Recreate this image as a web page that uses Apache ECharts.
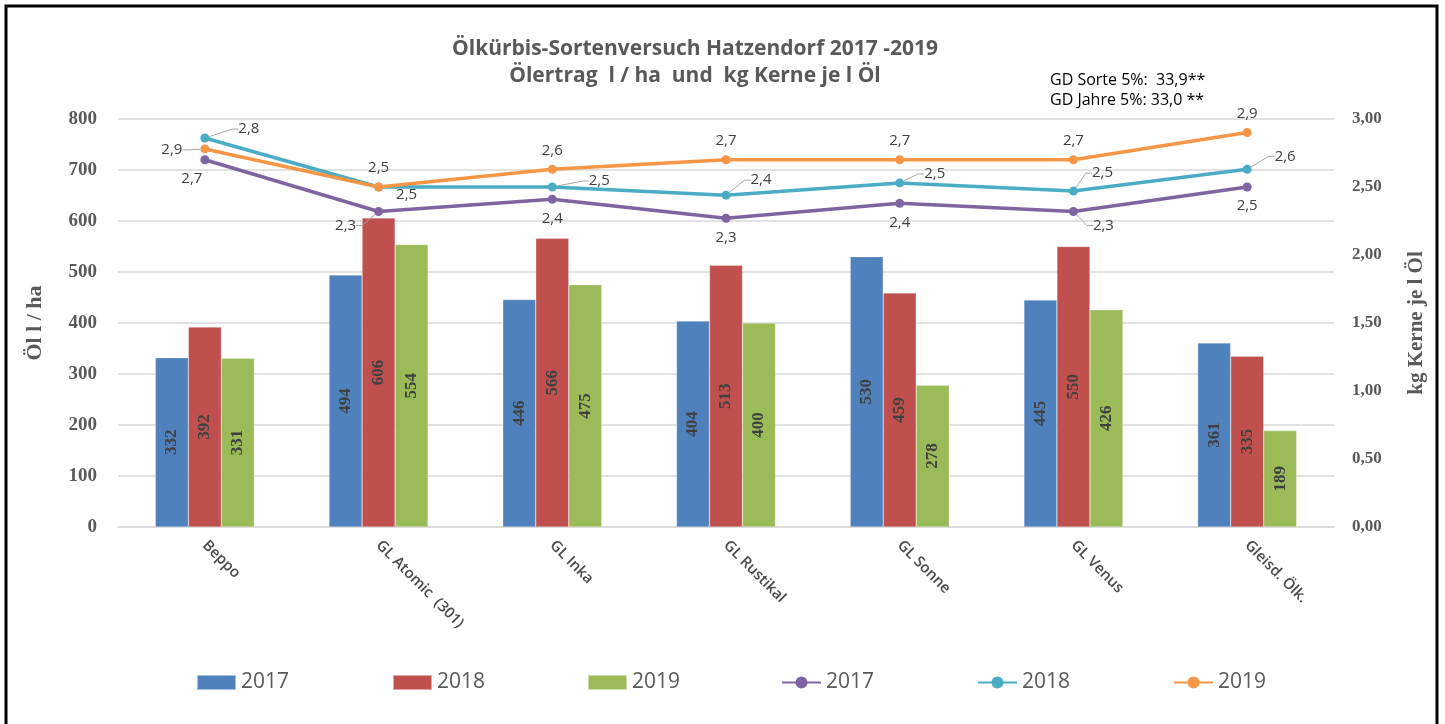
<!DOCTYPE html>
<html>
<head>
<meta charset="utf-8">
<title>Ölkürbis-Sortenversuch Hatzendorf</title>
<script src="https://cdn.jsdelivr.net/npm/echarts@6/dist/echarts.min.js"></script>
<style>
  html, body { margin: 0; padding: 0; background: #fff; }
  #main { width: 1445px; height: 724px; }
</style>
</head>
<body>
<div id="main"></div>
<script>
// Sorten (Kategorien)
const sorten = ['Beppo', 'GL Atomic  (301)', 'GL Inka', 'GL Rustikal', 'GL Sonne', 'GL Venus', 'Gleisd. Ölk.'];
// Ölertrag l/ha (Balken)
const oel2017 = [332, 494, 446, 404, 530, 445, 361];
const oel2018 = [392, 606, 566, 513, 459, 550, 335];
const oel2019 = [331, 554, 475, 400, 278, 426, 189];
// kg Kerne je l Öl (Linien), Lage im Bild
const kern2017 = [2.70, 2.32, 2.41, 2.27, 2.38, 2.32, 2.50];
const kern2018 = [2.86, 2.50, 2.50, 2.44, 2.53, 2.47, 2.63];
const kern2019 = [2.78, 2.50, 2.63, 2.70, 2.70, 2.70, 2.90];
// Beschriftungen der Linienpunkte, wie im Original
const kernText2017 = ['2,7', '2,3', '2,4', '2,3', '2,4', '2,3', '2,5'];
const kernText2018 = ['2,8', '2,5', '2,5', '2,4', '2,5', '2,5', '2,6'];
const kernText2019 = ['2,9', '2,5', '2,6', '2,7', '2,7', '2,7', '2,9'];

const serifFont = '"Liberation Serif", "DejaVu Serif", serif';
const sansFont = '"Open Sans", "Liberation Sans", sans-serif';

// Verschiebung einzelner Liniendaten-Beschriftungen [dx, dy]
const shift2017 = { 0: [-13, 0], 1: [-33, -5], 5: [30, -5] };
const shift2018 = { 0: [22, -9], 1: [6, 8], 2: [25, -6], 3: [13, -15], 4: [13, -9], 5: [7, -18], 6: [16, -13] };
const shift2019 = { 0: [-33, 20] };
const leader2017 = [1, 5];
const leader2018 = [0, 2, 3, 4, 5, 6];
const leader2019 = [0];

function barSeries(name, data, color) {
    return {
        name: name,
        type: 'bar',
        yAxisIndex: 0,
        barWidth: 33,
        barGap: '0%',
        data: data,
        itemStyle: { color: color, borderColor: 'rgba(255,255,255,0.5)', borderWidth: 0.5 },
        label: {
            show: true,
            position: 'inside',
            rotate: 90,
            fontFamily: serifFont,
            fontWeight: 'bold',
            fontSize: 17,
            color: '#404040'
        }
    };
}

function lineSeries(name, data, texts, color, pos, shift, leaders) {
    return {
        name: name,
        type: 'line',
        yAxisIndex: 1,
        symbol: 'circle',
        symbolSize: 9,
        z: 5,
        data: data.map((v, i) => ({
            value: v,
            labelLine: { show: leaders.indexOf(i) >= 0 }
        })),
        lineStyle: { color: color, width: 3.5 },
        itemStyle: { color: color },
        label: {
            show: true,
            position: pos,
            distance: 7,
            fontFamily: sansFont,
            fontSize: 15,
            color: '#404040',
            formatter: p => texts[p.dataIndex]
        },
        labelLine: {
            show: false,
            length2: 6,
            lineStyle: { color: '#a6a6a6', width: 1 }
        },
        labelLayout: p => {
            const s = shift[p.dataIndex];
            return s ? { dx: s[0], dy: s[1] } : {};
        }
    };
}

const chart = echarts.init(document.getElementById('main'));

const legendLeft = [191, 387, 582, 776, 972, 1168];
const legendNames = ['2017', '2018', '2019', '2017 ', '2018 ', '2019 '];

const option = {
    animation: false,
    textStyle: { fontFamily: sansFont },
    title: [
        {
            text: 'Ölkürbis-Sortenversuch Hatzendorf 2017 -2019',
            left: 690, top: 34, textAlign: 'center',
            textStyle: { fontSize: 21, fontWeight: 'bold', color: '#595959', fontFamily: sansFont }
        },
        {
            text: 'Ölertrag  l / ha  und  kg Kerne je l Öl',
            left: 690, top: 61, textAlign: 'center',
            textStyle: { fontSize: 21, fontWeight: 'bold', color: '#595959', fontFamily: sansFont }
        },
        {
            text: 'GD Sorte 5%:  33,9**',
            left: 1045, top: 67,
            textStyle: { fontSize: 16, fontWeight: 'normal', color: '#000', fontFamily: sansFont }
        },
        {
            text: 'GD Jahre 5%: 33,0 **',
            left: 1045, top: 87,
            textStyle: { fontSize: 16, fontWeight: 'normal', color: '#000', fontFamily: sansFont }
        }
    ],
    graphic: [
        {
            type: 'rect',
            shape: { x: 6, y: 6, width: 1431, height: 730 },
            style: { fill: 'none', stroke: '#000', lineWidth: 3 },
            silent: true
        }
    ],
    legend: legendNames.map((n, i) => ({
        data: i < 3 ? [{ name: n, icon: 'rect' }] : [n],
        left: legendLeft[i],
        top: 667,
        itemWidth: 39,
        itemHeight: 15,
        itemGap: 5,
        formatter: name => name.trim(),
        textStyle: { fontSize: 21, color: '#595959', fontFamily: sansFont }
    })),
    grid: { left: 118, right: 111, top: 119, bottom: 197 },
    xAxis: {
        type: 'category',
        data: sorten,
        axisTick: { show: false },
        axisLine: { lineStyle: { color: '#d9d9d9', width: 1.5 } },
        axisLabel: {
            rotate: -45,
            interval: 0,
            margin: 16,
            fontSize: 15,
            fontWeight: 600,
            color: '#4a4a4a',
            fontFamily: sansFont
        }
    },
    yAxis: [
        {
            type: 'value',
            min: 0, max: 800, interval: 100,
            name: 'Öl l / ha',
            nameLocation: 'middle',
            nameGap: 72,
            nameRotate: 90,
            nameTextStyle: { fontFamily: serifFont, fontWeight: 'bold', fontSize: 22, color: '#595959' },
            axisLine: { show: false },
            axisTick: { show: false },
            axisLabel: { margin: 21, fontFamily: serifFont, fontWeight: 'bold', fontSize: 19, color: '#595959' },
            splitLine: { lineStyle: { color: '#d9d9d9', width: 1.5 } }
        },
        {
            type: 'value',
            min: 0, max: 3, interval: 0.5,
            name: 'kg Kerne je l Öl',
            nameLocation: 'middle',
            nameGap: 72,
            nameRotate: 90,
            nameTextStyle: { fontFamily: serifFont, fontWeight: 'bold', fontSize: 21, color: '#595959' },
            axisLine: { show: false },
            axisTick: { show: false },
            splitLine: { show: false },
            axisLabel: {
                margin: 18,
                fontFamily: serifFont, fontWeight: 'bold', fontSize: 17, color: '#595959',
                formatter: v => v.toFixed(2).replace('.', ',')
            }
        }
    ],
    series: [
        barSeries('2017', oel2017, '#4F81BD'),
        barSeries('2018', oel2018, '#C0504D'),
        barSeries('2019', oel2019, '#9BBB59'),
        lineSeries('2017 ', kern2017, kernText2017, '#8064A2', 'bottom', shift2017, leader2017),
        lineSeries('2018 ', kern2018, kernText2018, '#4BACC6', 'right', shift2018, leader2018),
        lineSeries('2019 ', kern2019, kernText2019, '#F79646', 'top', shift2019, leader2019)
    ]
};

chart.setOption(option);
</script>
</body>
</html>
